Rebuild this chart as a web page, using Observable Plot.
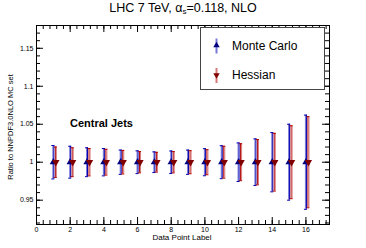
<!DOCTYPE html>
<html><head><meta charset="utf-8">
<script src="https://cdn.jsdelivr.net/npm/d3@7"></script>
<script src="https://cdn.jsdelivr.net/npm/@observablehq/plot@0.6"></script>
<style>
body{margin:0;background:#fff;font-family:"Liberation Sans",Arial,sans-serif;}
#c{position:relative;width:366px;height:248px;overflow:hidden;background:#fff}
#c > svg{position:absolute;left:0;top:0}
.ov{position:absolute;white-space:nowrap;color:#000}
#title{left:0;width:366px;top:0px;text-align:center;font-size:12.5px;line-height:16px}
#title sub{font-size:8px;vertical-align:-2px;line-height:0}
#ylab{left:10px;top:127px;font-size:7.5px;transform:translate(-50%,-50%) rotate(-90deg)}
#xlab{left:182px;top:233px;font-size:8px;transform:translateX(-50%)}
#tag{left:70px;top:117px;font-size:11px;font-weight:bold}
#legend{position:absolute;left:200px;top:27px;width:125px;height:63px;border:1px solid #444;background:#fff;box-sizing:border-box}
#legend .t{position:absolute;left:31px;font-size:12px;line-height:14px}
#legend svg{position:absolute;left:0;top:0}
</style>
</head><body>
<div id="c"></div>
<script>
// ---- data ----
const points = [1, 2, 3, 4, 5, 6, 7, 8, 9, 10, 11, 12, 13, 14, 15, 16];
const mcRatio = [1, 1, 1, 1, 1, 1, 1, 1, 1, 1, 1, 1, 1, 1, 1, 1];
const mcErr = [0.022, 0.021, 0.019, 0.018, 0.016, 0.015, 0.0136, 0.0148, 0.016, 0.0178, 0.0217, 0.0254, 0.0307, 0.039, 0.050, 0.062];
const hesRatio = [1, 1, 1, 1, 1, 1, 1, 1, 1, 1, 1, 1, 1, 1, 1, 1];
const hesErr = [0.020, 0.019, 0.018, 0.017, 0.0155, 0.014, 0.013, 0.014, 0.0152, 0.0165, 0.021, 0.0243, 0.0298, 0.038, 0.048, 0.060];
const yMajor = [0.95, 1, 1.05, 1.1, 1.15];
const xMajor = [0, 2, 4, 6, 8, 10, 12, 14, 16];
const seriesNames = ["Monte Carlo", "Hessian"];

const yMinor = d3.range(92, 119).map(v => v / 100);
const xMinor = d3.range(0, 44).map(v => v * 0.4).filter(v => v <= 17.4);

const mc = points.map((p, i) => ({x: p, y: mcRatio[i], lo: mcRatio[i] - mcErr[i], hi: mcRatio[i] + mcErr[i]}));
const hes = points.map((p, i) => ({x: p + 0.15, y: hesRatio[i], lo: hesRatio[i] - hesErr[i], hi: hesRatio[i] + hesErr[i]}));

const sqrt3 = Math.sqrt(3);
const triDown = {draw(ctx, size) {
  const y = -Math.sqrt(size / (sqrt3 * 3));
  ctx.moveTo(0, -y * 2); ctx.lineTo(-sqrt3 * y, y); ctx.lineTo(sqrt3 * y, y); ctx.closePath();
}};

const W = 366, H = 248, mL = 36, mR = 37, mT = 25, mB = 24;
const fw = W - mL - mR, fh = H - mT - mB;
const capW = 0.09;
const R = 2.7;

const blueDark = "#0000b0", blueLight = "#7878d8", redDark = "#b00000", redLight = "#d87878";

const chart = Plot.plot({
  width: W, height: H,
  marginLeft: mL, marginRight: mR, marginTop: mT, marginBottom: mB,
  x: {domain: [0, 17.4], axis: null},
  y: {domain: [0.918, 1.18], axis: null},
  style: {fontFamily: "Liberation Sans, Arial, sans-serif", background: "white"},
  marks: [
    // ticks inward (ROOT style)
    Plot.ruleY(yMinor, {y: d => d, insetRight: fw - 4, stroke: "black"}),
    Plot.ruleY(yMajor, {y: d => d, insetRight: fw - 7, stroke: "black"}),
    Plot.ruleY(yMinor, {y: d => d, insetLeft: fw - 4, stroke: "black"}),
    Plot.ruleY(yMajor, {y: d => d, insetLeft: fw - 7, stroke: "black"}),
    Plot.ruleX(xMinor, {x: d => d, insetTop: fh - 4, stroke: "black"}),
    Plot.ruleX(xMajor, {x: d => d, insetTop: fh - 7, stroke: "black"}),
    Plot.ruleX(xMinor, {x: d => d, insetBottom: fh - 4, stroke: "black"}),
    Plot.ruleX(xMajor, {x: d => d, insetBottom: fh - 7, stroke: "black"}),
    Plot.axisY({ticks: yMajor, tickSize: 0, tickPadding: 3, fontSize: 7, label: null, tickFormat: d => String(d)}),
    Plot.axisX({ticks: xMajor, tickSize: 0, tickPadding: 3, fontSize: 7, label: null, tickFormat: d => String(d)}),
    // Monte Carlo error bars
    Plot.ruleX(mc, {x: "x", y1: "lo", y2: "hi", stroke: blueLight, strokeWidth: 1, dx: -0.5}),
    Plot.ruleX(mc, {x: "x", y1: "lo", y2: "hi", stroke: blueDark, strokeWidth: 1, dx: 0.5}),
    Plot.ruleY(mc, {y: "hi", x1: d => d.x - capW, x2: d => d.x + capW, stroke: blueDark, strokeWidth: 1}),
    Plot.ruleY(mc, {y: "lo", x1: d => d.x - capW, x2: d => d.x + capW, stroke: blueDark, strokeWidth: 1}),
    // Hessian error bars
    Plot.ruleX(hes, {x: "x", y1: "lo", y2: "hi", stroke: redDark, strokeWidth: 1, dx: -0.5}),
    Plot.ruleX(hes, {x: "x", y1: "lo", y2: "hi", stroke: redLight, strokeWidth: 1, dx: 0.5}),
    Plot.ruleY(hes, {y: "hi", x1: d => d.x - capW, x2: d => d.x + capW, stroke: redDark, strokeWidth: 1}),
    Plot.ruleY(hes, {y: "lo", x1: d => d.x - capW, x2: d => d.x + capW, stroke: redDark, strokeWidth: 1}),
    // markers
    Plot.dot(mc, {x: "x", y: "y", symbol: "triangle", r: R, fill: "#000080", stroke: "none"}),
    Plot.dot(hes, {x: "x", y: "y", symbol: triDown, r: R, fill: "#800000", stroke: "none"}),
    Plot.frame({stroke: "black"})
  ]
});

const c = document.getElementById("c");
c.appendChild(chart);

function addDiv(id, html) {
  const d = document.createElement("div");
  d.className = "ov"; d.id = id; d.innerHTML = html; c.appendChild(d); return d;
}
addDiv("title", "LHC 7 TeV, α<sub>s</sub>=0.118, NLO");
addDiv("ylab", "Ratio to NNPDF3.0NLO MC set");
addDiv("xlab", "Data Point Label");
addDiv("tag", "Central Jets");

// legend
const lg = document.createElement("div");
lg.id = "legend";
c.appendChild(lg);
const ls = d3.select(lg).append("svg").attr("width", 125).attr("height", 63);
const entries = [
  {name: seriesNames[0], cy: 17.5, dark: blueDark, light: blueLight, fill: "#000080", sym: d3.symbolTriangle},
  {name: seriesNames[1], cy: 47, dark: redDark, light: redLight, fill: "#800000", sym: triDown}
];
entries.forEach(e => {
  ls.append("line").attr("x1", 15.5).attr("x2", 15.5).attr("y1", e.cy - 7).attr("y2", e.cy + 8).attr("stroke", e.light).attr("stroke-width", 2);
  ls.append("path").attr("d", d3.symbol(e.sym, Math.PI * 2.4 * 2.4)()).attr("transform", `translate(15.5,${e.cy})`).attr("fill", e.fill);
  const t = document.createElement("div");
  t.className = "t"; t.textContent = e.name; t.style.top = (e.cy - 7) + "px";
  lg.appendChild(t);
});
</script>
</body></html>
